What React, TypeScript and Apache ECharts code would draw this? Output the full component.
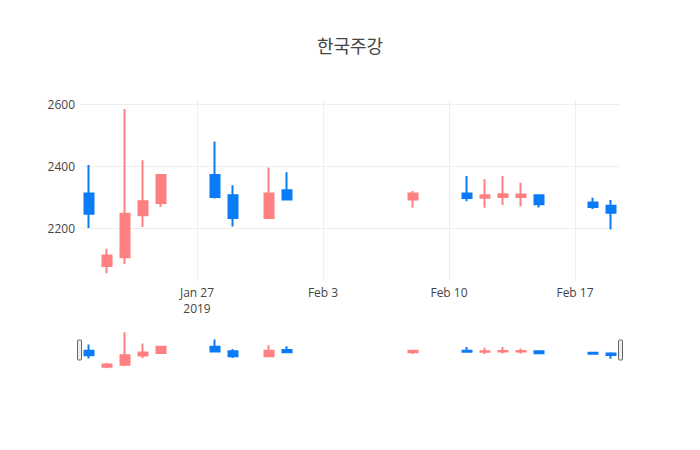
import React, { useEffect, useRef } from "react";
import * as echarts from "echarts";

const dates = [
  "2019-01-21", "2019-01-22", "2019-01-23", "2019-01-24", "2019-01-25",
  "2019-01-28", "2019-01-29", "2019-01-31", "2019-02-01", "2019-02-08",
  "2019-02-11", "2019-02-12", "2019-02-13", "2019-02-14", "2019-02-15",
  "2019-02-18", "2019-02-19",
];
const opens = [2311, 2077, 2106, 2241, 2281, 2371, 2306, 2232, 2322, 2292, 2311, 2298, 2300, 2300, 2306, 2282, 2272];
const closes = [2246, 2111, 2246, 2286, 2371, 2300, 2232, 2311, 2292, 2311, 2297, 2306, 2309, 2308, 2277, 2268, 2249];
const lows = [2200, 2054, 2084, 2203, 2268, 2295, 2205, 2230, 2290, 2265, 2286, 2265, 2274, 2270, 2266, 2261, 2195];
const highs = [2403, 2133, 2584, 2419, 2371, 2479, 2338, 2395, 2380, 2319, 2368, 2357, 2368, 2346, 2306, 2298, 2290];

const yTicks = [2200, 2400, 2600];
const xTickDates = ["2019-01-27", "2019-02-03", "2019-02-10", "2019-02-17"];
const xTickLabels = ["Jan 27\n2019", "Feb 3", "Feb 10", "Feb 17"];
const titleText = "한국주강";

const UP = "#FF8080";
const DOWN = "#0A7BF7";

function ts(d: string): number {
  const [y, m, dd] = d.split("-").map(Number);
  return Date.UTC(y, m - 1, dd);
}

export default function App() {
  const ref = useRef<HTMLDivElement>(null);
  useEffect(() => {
    if (!ref.current) return;
    const chart = echarts.init(ref.current, null, { renderer: "svg" });
    const day = 86400000;
    const xMin = ts(dates[0]) - 0.5 * day;
    const xMax = ts(dates[dates.length - 1]) + 0.5 * day;
    const data = dates.map((d, i) => [ts(d), opens[i], closes[i], lows[i], highs[i]]);
    const tickVals = xTickDates.map(ts);
    const labelMap: Record<number, string> = {};
    tickVals.forEach((v, i) => (labelMap[v] = xTickLabels[i]));
    const itemStyle = {
      color: UP,
      color0: DOWN,
      borderColor: UP,
      borderColor0: DOWN,
      borderWidth: 2,
    };
    chart.setOption({
      animation: false,
      backgroundColor: "#fff",
      title: {
        text: titleText,
        left: "center",
        top: 31,
        textStyle: {
          fontFamily: "'Noto Sans CJK KR', 'Open Sans', sans-serif",
          fontSize: 18,
          fontWeight: "normal",
          color: "#444",
        },
      },
      grid: [
        { left: 80, width: 540, top: 100, height: 181 },
        { left: 80, width: 540, top: 330, height: 40.5 },
      ],
      xAxis: [
        {
          type: "value",
          gridIndex: 0,
          min: xMin,
          max: xMax,
          axisLine: { show: false },
          axisTick: { show: false, customValues: tickVals },
          axisLabel: {
            customValues: tickVals,
            formatter: (v: number) => labelMap[v] ?? "",
            color: "#444",
            fontFamily: "'Open Sans', sans-serif",
            fontSize: 12,
            lineHeight: 15.5,
            margin: 4,
          },
          splitLine: { show: true, lineStyle: { color: "#eee", width: 1 } },
        },
        {
          type: "value",
          gridIndex: 1,
          min: xMin,
          max: xMax,
          show: false,
        },
      ],
      yAxis: [
        {
          type: "value",
          gridIndex: 0,
          min: 2029,
          max: 2613,
          axisLine: { show: false },
          axisTick: { show: false, customValues: yTicks },
          axisLabel: {
            customValues: yTicks,
            formatter: (v: number) => String(v),
            color: "#444",
            fontFamily: "'Open Sans', sans-serif",
            fontSize: 12,
            margin: 5,
          },
          splitLine: { show: true, lineStyle: { color: "#eee", width: 1 } },
        },
        {
          type: "value",
          gridIndex: 1,
          min: 2022,
          max: 2618,
          show: false,
        },
      ],
      series: [
        {
          type: "candlestick",
          xAxisIndex: 0,
          yAxisIndex: 0,
          data,
          encode: { x: 0, y: [1, 2, 3, 4] },
          barWidth: 9,
          itemStyle,
        },
        {
          type: "candlestick",
          xAxisIndex: 1,
          yAxisIndex: 1,
          data,
          encode: { x: 0, y: [1, 2, 3, 4] },
          barWidth: 9,
          itemStyle,
        },
      ],
      graphic: [
        {
          type: "rect",
          shape: { x: 77.5, y: 340, width: 4, height: 20, r: 1 },
          style: { fill: "#eee", stroke: "#666", lineWidth: 1 },
        },
        {
          type: "rect",
          shape: { x: 618.5, y: 340, width: 4, height: 20, r: 1 },
          style: { fill: "#eee", stroke: "#666", lineWidth: 1 },
        },
      ],
    });
    return () => chart.dispose();
  }, []);
  return (
    <div
      ref={ref}
      style={{ position: "absolute", left: 0, top: 0, width: 700, height: 450 }}
    />
  );
}
